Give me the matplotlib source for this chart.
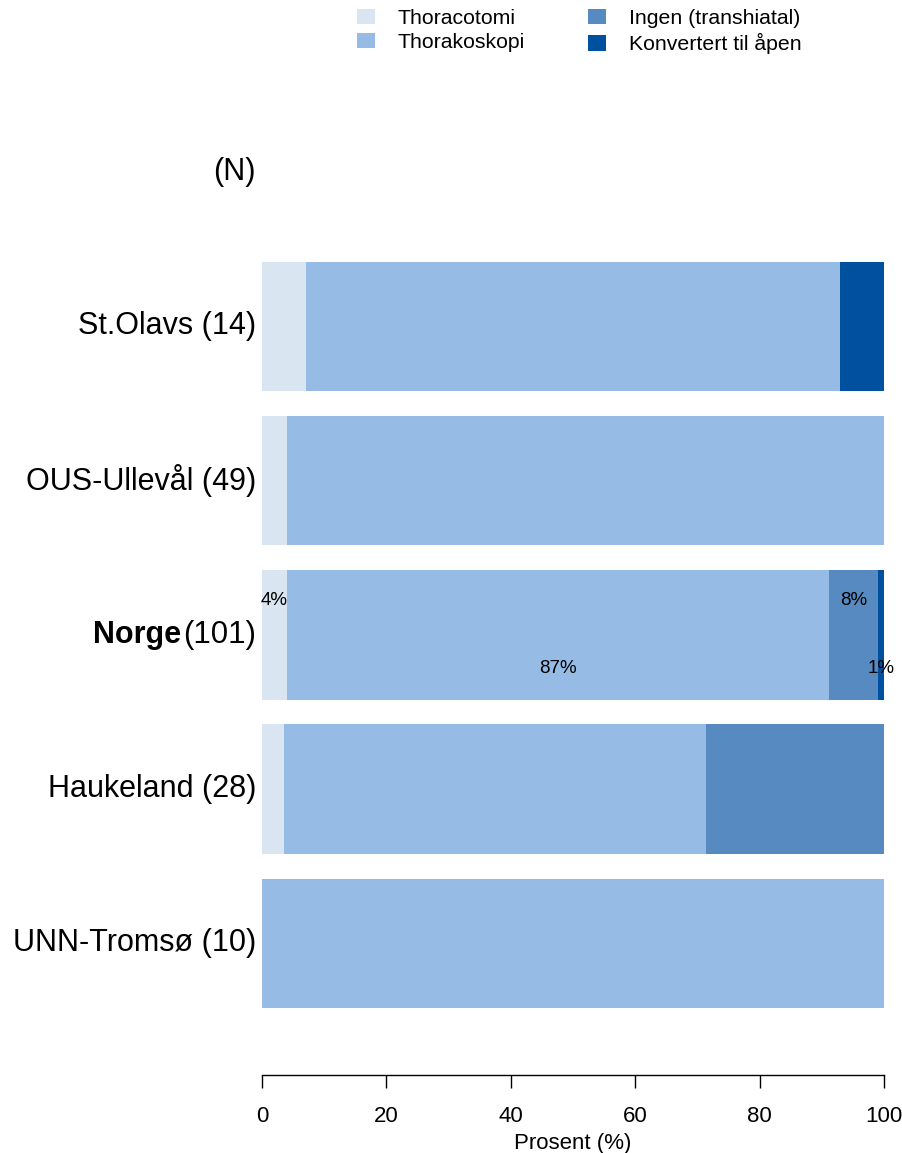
import matplotlib
matplotlib.use("Agg")
import matplotlib.pyplot as plt
from matplotlib.patches import Patch
from matplotlib.transforms import offset_copy
import numpy as np

plt.rcParams['font.family'] = ['Liberation Sans', 'DejaVu Sans']

categories = ["St.Olavs (14)", "OUS-Ullevål (49)", "Norge", "Haukeland (28)", "UNN-Tromsø (10)"]
national_n = "(101)"
series_names = ["Thoracotomi", "Thorakoskopi", "Ingen (transhiatal)", "Konvertert til åpen"]
counts = {
    "Thoracotomi":         [1, 2, 4, 1, 0],
    "Thorakoskopi":        [12, 47, 88, 19, 10],
    "Ingen (transhiatal)": [0, 0, 8, 8, 0],
    "Konvertert til åpen": [1, 0, 1, 0, 0],
}
colors = ["#D9E5F1", "#96BCE5", "#568AC0", "#0050A0"]
xticks = [0, 20, 40, 60, 80, 100]

W, H = 903, 1153
fig = plt.figure(figsize=(W / 100, H / 100), dpi=100)
ax = fig.add_axes([262 / W, 1 - 1075 / H, (884 - 262) / W, (1075 - 95) / H])

n = len(categories)
ypos = np.arange(n, 0, -1)  # top to bottom: 5..1
totals = np.sum([counts[s] for s in series_names], axis=0)
left = np.zeros(n)
pcts = {}
for s, c in zip(series_names, colors):
    vals = np.array(counts[s]) / totals * 100
    pcts[s] = vals
    ax.barh(ypos, vals, left=left, height=0.84, color=c, edgecolor='none')
    left = left + vals

# percent labels for national bar
ni = categories.index("Norge")
left = 0.0
for k, s in enumerate(series_names):
    v = pcts[s][ni]
    yoff = 0.22 if k % 2 == 0 else -0.22
    ax.text(left + v / 2, ypos[ni] + yoff, f"{v:.0f}%", ha='center', va='center',
            fontsize=13.5, clip_on=False)
    left += v

ax.set_xlim(0, 100)
ax.set_ylim(0.147, 6.5)
for sp in ['top', 'right', 'left']:
    ax.spines[sp].set_visible(False)
ax.spines['bottom'].set_linewidth(1.0)
ax.set_yticks([])
ax.set_xticks(xticks)
ax.set_xticklabels([str(t) for t in xticks], fontsize=16)
ax.tick_params(axis='x', direction='out', length=9, width=1.0, pad=13)
ax.set_xlabel("Prosent (%)", fontsize=16, labelpad=5)

# category labels
lab_tr = offset_copy(ax.get_yaxis_transform(), fig=fig, x=-6, y=0, units='dots')
for i, cat in enumerate(categories):
    if cat == "Norge":
        continue
    ax.text(0, ypos[i], cat, transform=lab_tr, ha='right', va='center', fontsize=22)
ax.text(0, 6.0, "(N)", transform=lab_tr, ha='right', va='center', fontsize=22)

# national label: bold name + count
t2 = ax.text(0, ypos[ni], national_n, transform=lab_tr, ha='right', va='center', fontsize=22.5)
fig.canvas.draw()
r = fig.canvas.get_renderer()
w2 = t2.get_window_extent(renderer=r).width
lab_tr2 = offset_copy(ax.get_yaxis_transform(), fig=fig, x=-6 - w2 - 2, y=0, units='dots')
ax.text(0, ypos[ni], "Norge", transform=lab_tr2, ha='right', va='center', fontsize=22,
        fontweight='bold')

handles = [Patch(facecolor=c, edgecolor='none') for c in colors]
fig.legend(handles, series_names, loc='upper left', bbox_to_anchor=(357 / W, 1 - 9 / H),
           ncol=2, frameon=False, fontsize=15.3, handlelength=0.85, handleheight=0.72,
           handletextpad=1.05, columnspacing=3.0, labelspacing=0.25, borderpad=0,
           borderaxespad=0)

fig.savefig("out.png", dpi=100)
